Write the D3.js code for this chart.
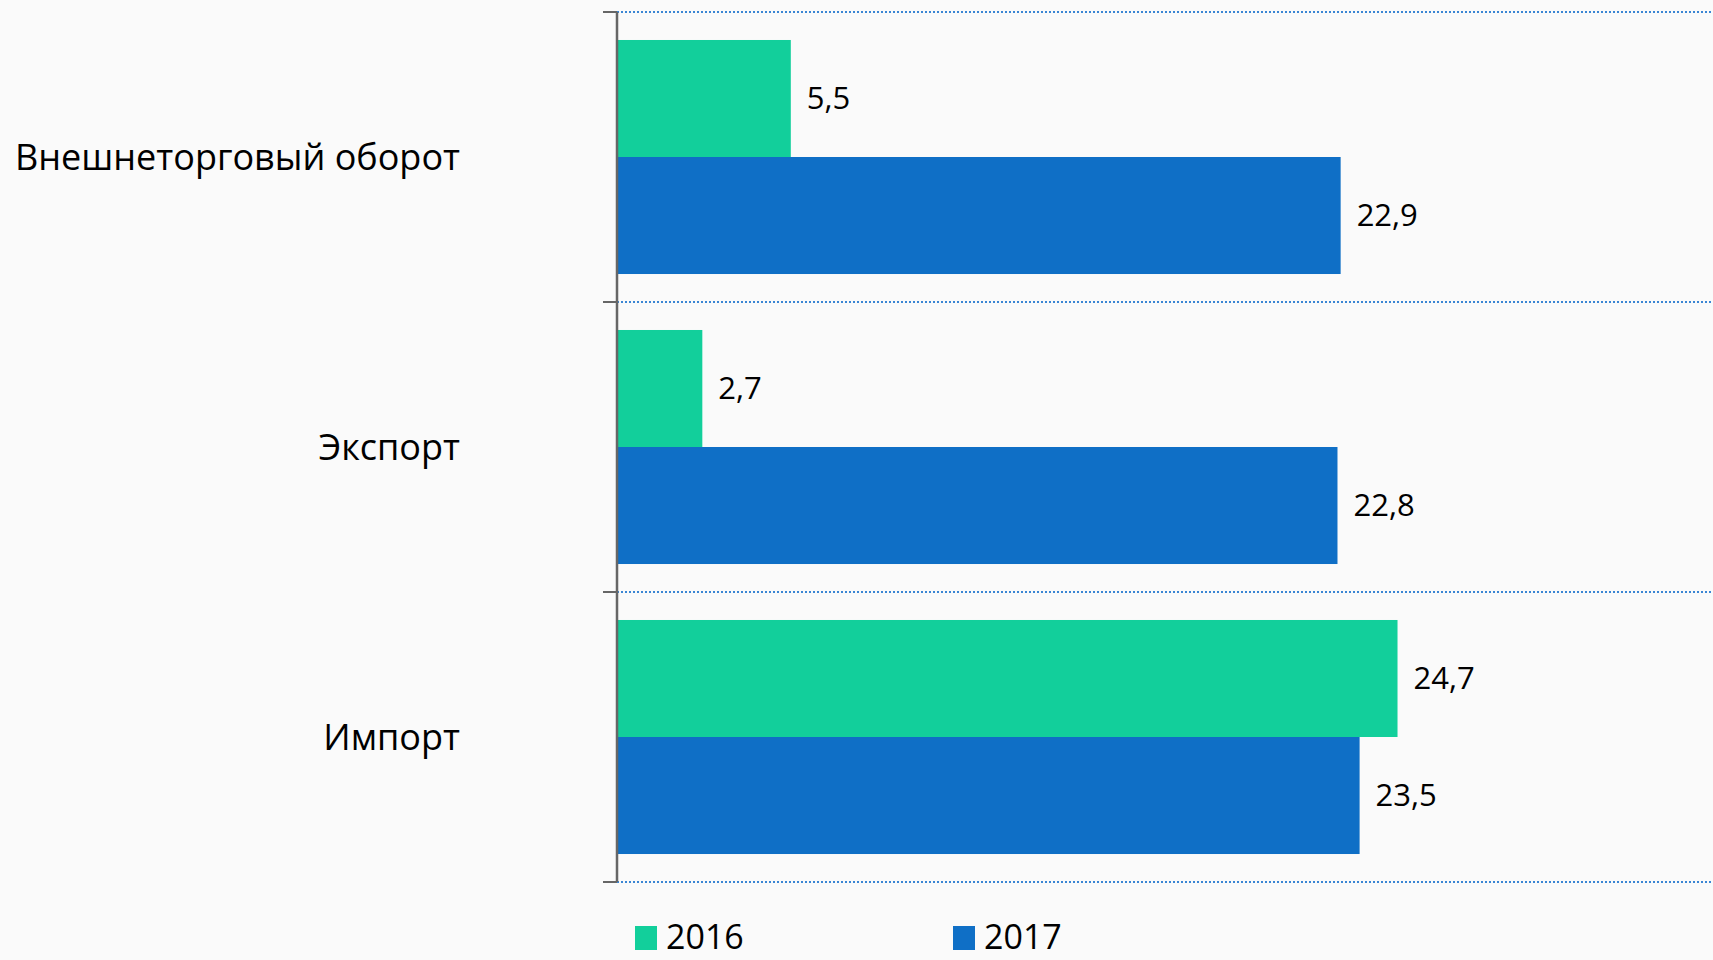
<!DOCTYPE html>
<html><head><meta charset="utf-8">
<script src="https://cdn.jsdelivr.net/npm/d3@7"></script>
<style>
html,body{margin:0;padding:0;background:#fafafa;overflow:hidden;}
svg{display:block;}
text{font-family:"Open Sans","Noto Sans",sans-serif;fill:#000;}
</style></head>
<body>
<svg id="chart" width="1713" height="960"></svg>
<script>
const categories = ["Внешнеторговый оборот", "Экспорт", "Импорт"];
const series = ["2016", "2017"];
const values2016 = [5.5, 2.7, 24.7];
const values2017 = [22.9, 22.8, 23.5];
const colors = ["#12CF9B", "#0F6FC6"];

const svg = d3.select("#chart");
const W = 1713, H = 960;
const plotLeft = 617, plotTop = 12, plotBottom = 882;

const x = d3.scaleLinear().domain([0, 35]).range([plotLeft, plotLeft + 35 * 31.6]);
const y = d3.scaleBand().domain(categories).range([plotTop, plotBottom]).paddingInner(0.193).paddingOuter(0.0965);
const ySub = d3.scaleBand().domain(series).range([0, y.bandwidth()]);

// gridlines at category boundaries
const step = (plotBottom - plotTop) / categories.length;
const gridYs = d3.range(categories.length + 1).map(i => plotTop + i * step);
svg.append("g").selectAll("line").data(gridYs).join("line")
  .attr("x1", plotLeft).attr("x2", W)
  .attr("y1", d => d).attr("y2", d => d)
  .attr("stroke", "#3a86d4").attr("stroke-width", 2).attr("stroke-dasharray", "2,2");

// tick marks
svg.append("g").selectAll("line").data(gridYs).join("line")
  .attr("x1", plotLeft - 14).attr("x2", plotLeft)
  .attr("y1", d => d).attr("y2", d => d)
  .attr("stroke", "#666").attr("stroke-width", 2);

const data = categories.flatMap((c, i) => [
  {cat: c, s: "2016", v: values2016[i], col: colors[0]},
  {cat: c, s: "2017", v: values2017[i], col: colors[1]}
]);

svg.append("g").selectAll("rect").data(data).join("rect")
  .attr("x", x(0))
  .attr("y", d => y(d.cat) + ySub(d.s))
  .attr("width", d => x(d.v) - x(0))
  .attr("height", ySub.bandwidth())
  .attr("fill", d => d.col);

svg.append("g").selectAll("text").data(data).join("text")
  .attr("x", d => x(d.v) + 16)
  .attr("y", d => y(d.cat) + ySub(d.s) + ySub.bandwidth() / 2)
  .attr("dy", "0.35em")
  .attr("font-size", 31)
  .text(d => d.v.toFixed(1).replace(".", ","));

// axis line
svg.append("line").attr("x1", plotLeft).attr("x2", plotLeft).attr("y1", plotTop).attr("y2", plotBottom)
  .attr("stroke", "#666").attr("stroke-width", 2.5);

// category labels
svg.append("g").selectAll("text").data(categories).join("text")
  .attr("x", 460)
  .attr("y", d => y(d) + y.bandwidth() / 2)
  .attr("dy", "0.35em")
  .attr("text-anchor", "end")
  .attr("font-size", 36)
  .text(d => d);

// legend
const legX = [635, 953];
const leg = svg.append("g").selectAll("g").data(series).join("g");
leg.append("rect").attr("x", (d, i) => legX[i]).attr("y", 926).attr("width", 22).attr("height", 24)
  .attr("fill", (d, i) => colors[i]);
leg.append("text").attr("x", (d, i) => legX[i] + 31).attr("y", 949)
  .attr("font-size", 34).text(d => d);
</script>
</body></html>
